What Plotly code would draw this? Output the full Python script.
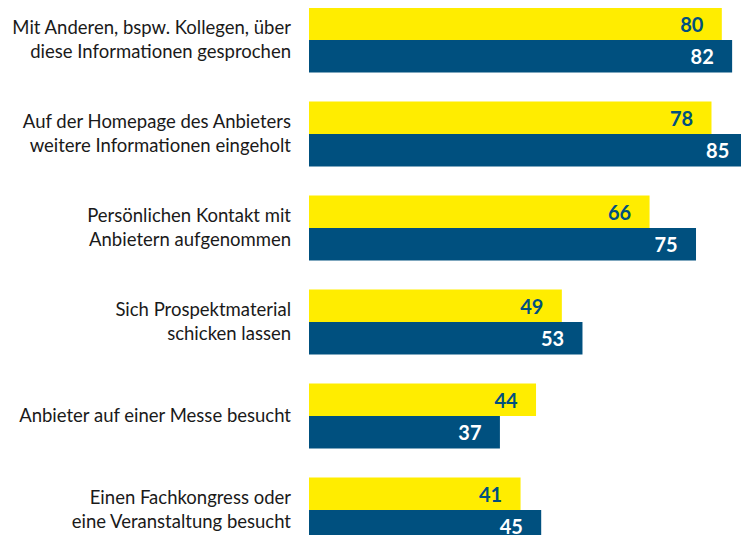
import plotly.graph_objects as go

categories = [
    "Mit Anderen, bspw. Kollegen, über<br>diese Informationen gesprochen",
    "Auf der Homepage des Anbieters<br>weitere Informationen eingeholt",
    "Persönlichen Kontakt mit<br>Anbietern aufgenommen",
    "Sich Prospektmaterial<br>schicken lassen",
    "Anbieter auf einer Messe besucht",
    "Einen Fachkongress oder<br>eine Veranstaltung besucht",
]
series_yellow = [80, 78, 66, 49, 44, 41]
series_blue = [82, 85, 75, 53, 37, 45]

YELLOW = "#FFED00"
BLUE = "#00507F"

fig = go.Figure()
fig.add_trace(go.Bar(
    y=categories, x=series_yellow, orientation="h", marker_color=YELLOW,
    marker_line_width=0,
    text=series_yellow, texttemplate="<b>%{text}</b>&nbsp;&nbsp;&nbsp;",
    textposition="inside", insidetextanchor="end",
    textfont=dict(color=BLUE, size=20, family="Lato"), name="A",
))
fig.add_trace(go.Bar(
    y=categories, x=series_blue, orientation="h", marker_color=BLUE,
    marker_line_width=0,
    text=series_blue, texttemplate="<b>%{text}</b>&nbsp;&nbsp;&nbsp;",
    textposition="inside", insidetextanchor="end",
    textfont=dict(color="white", size=20, family="Lato"), name="B",
))
# page body has an 8px default margin, so the figure is drawn at (8, 8)
fig.update_layout(
    width=741, height=527,
    margin=dict(l=301, r=0, t=0, b=0, autoexpand=False),
    barmode="group", bargap=0.31, bargroupgap=0,
    showlegend=False,
    plot_bgcolor="white", paper_bgcolor="white",
    font=dict(family="Lato", size=16, color="#1a1a1a"),
    xaxis=dict(visible=False, range=[0, 85.27], automargin=False),
    yaxis=dict(range=[5.266, -0.3404], showgrid=False, zeroline=False,
               showline=False, ticks="", ticklabelstandoff=17,
               automargin=False,
               tickfont=dict(size=18.5, color="#1a1a1a")),
)
fig.write_html("out.html")
